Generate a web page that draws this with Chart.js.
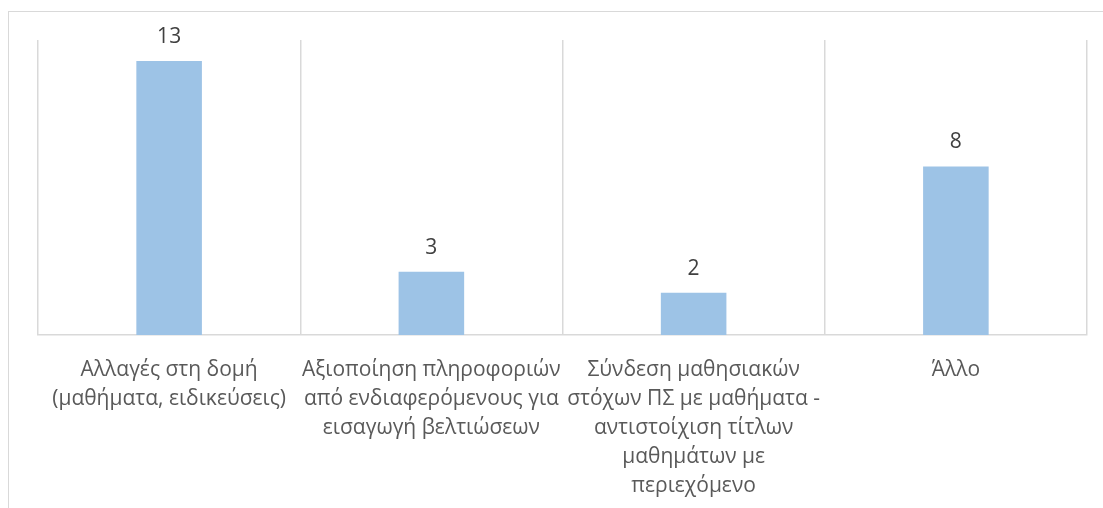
<!DOCTYPE html>
<html>
<head>
<meta charset="utf-8">
<script src="https://cdn.jsdelivr.net/npm/chart.js@4.4.0/dist/chart.umd.min.js"></script>
<style>
    html, body {
        margin: 0;
        padding: 0;
        background: #ffffff;
        overflow: hidden;
    }
    #frame {
        position: absolute;
        left: 8px;
        top: 11px;
        width: 1200px;
        height: 600px;
        border: 1px solid #d9d9d9;
        box-sizing: border-box;
    }
    #wrap {
        position: absolute;
        left: 0;
        top: 0;
        width: 1103px;
        height: 508px;
    }
</style>
</head>
<body>
<div id="frame"></div>
<div id="wrap"><canvas id="barChart"></canvas></div>
<script>
// categories (wrapped as in the original chart)
var categories = [
    ["Αλλαγές στη δομή", "(μαθήματα, ειδικεύσεις)"],
    ["Αξιοποίηση πληροφοριών", "από ενδιαφερόμενους για", "εισαγωγή βελτιώσεων"],
    ["Σύνδεση μαθησιακών", "στόχων ΠΣ με μαθήματα -", "αντιστοίχιση τίτλων", "μαθημάτων με", "περιεχόμενο"],
    ["Άλλο"]
];
var values = [13, 3, 2, 8];

var fontFamily = "'Open Sans', 'Noto Sans', sans-serif";

// ετικέτες τιμών πάνω από κάθε μπάρα
var valueLabels = {
    id: "valueLabels",
    afterDatasetsDraw: function(chart) {
        var ctx = chart.ctx;
        var meta = chart.getDatasetMeta(0);
        ctx.save();
        ctx.fillStyle = "#404040";
        ctx.font = "21px " + fontFamily;
        ctx.textAlign = "center";
        ctx.textBaseline = "alphabetic";
        meta.data.forEach(function(bar, i) {
            ctx.fillText(values[i], bar.x, bar.y - 18);
        });
        ctx.restore();
    }
};

var ctx = document.getElementById("barChart").getContext("2d");
var barChart = new Chart(ctx, {
    type: "bar",
    data: {
        labels: categories,
        datasets: [{
            data: values,
            backgroundColor: "#9dc3e6",
            borderWidth: 0,
            barPercentage: 0.5,
            categoryPercentage: 0.5
        }]
    },
    options: {
        responsive: true,
        maintainAspectRatio: false,
        animation: false,
        layout: {
            padding: { left: 38, right: 16, top: 40, bottom: 0 }
        },
        plugins: {
            legend: { display: false },
            tooltip: { enabled: false }
        },
        scales: {
            x: {
                grid: {
                    color: "#d9d9d9",
                    lineWidth: 1.5,
                    drawTicks: false,
                    offset: true
                },
                border: {
                    color: "#d9d9d9",
                    width: 1.5
                },
                ticks: {
                    color: "#595959",
                    padding: 20,
                    maxRotation: 0,
                    autoSkip: false,
                    font: { family: fontFamily, size: 21, lineHeight: 1.39 }
                },
                afterFit: function(axis) {
                    axis.height = 173;
                }
            },
            y: {
                display: false,
                min: 0,
                max: 14
            }
        }
    },
    plugins: [valueLabels]
});
</script>
</body>
</html>
